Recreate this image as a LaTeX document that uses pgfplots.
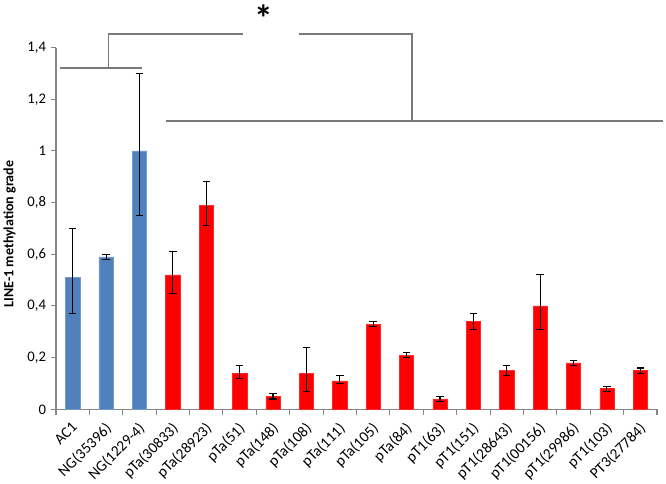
\documentclass[border=0pt]{standalone}
\usepackage{pgfplots}
\pgfplotsset{compat=1.18}
\usepackage{fontspec}
\setmainfont{Carlito}
\definecolor{xlblue}{HTML}{4F81BD}
\definecolor{xlred}{HTML}{FF0000}
\definecolor{axgray}{HTML}{868686}
\definecolor{brgray}{HTML}{7A7A7A}
\begin{document}
\begin{tikzpicture}
\path[use as bounding box] (-42pt,-56pt) rectangle (457.5pt,307pt);
\begin{axis}[
  at={(0,0)}, anchor=south west,
  scale only axis, width=450.75pt, height=271.35pt,
  ybar, bar width=10.7pt, bar shift=0pt,
  xmin=-0.5, xmax=17.5, ymin=0, ymax=1.4,
  axis x line=bottom, axis y line=left,
  axis line style={draw=axgray, line width=0.8pt, -},
  clip=false,
  xtick={-0.5,0.5,...,17.5},
  x tick label as interval,
  xticklabels={AC1,NG(35396),NG(1229-4),pTa(30833),pTa(28923),pTa(51),pTa(148),pTa(108),pTa(111),pTa(105),pTa(84),pT1(63),pT1(151),pT1(28643),pT1(00156),pT1(29986),pT1(103),PT3(27784)},
  x tick label style={rotate=45, anchor=north east, font=\fontsize{11.5}{13}\selectfont, xshift=-1pt, yshift=1pt},
  ytick={0,0.2,0.4,0.6,0.8,1,1.2,1.4},
  yticklabels={0,{0,2},{0,4},{0,6},{0,8},1,{1,2},{1,4}},
  y tick label style={font=\fontsize{11}{13}\selectfont},
  /pgf/number format/assume math mode=true,
  tick style={draw=axgray, line width=0.8pt},
  major tick length=4pt,
  tick align=outside,
  ylabel={\bfseries LINE-1 methylation grade},
  ylabel style={at={(axis description cs:-0.077,0.485)}, anchor=center, font=\fontsize{10.5}{12}\selectfont},
  error bars/error bar style={black, line width=0.8pt},
  error bars/error mark options={black, rotate=90, mark size=2.8pt, line width=0.8pt},
]
\addplot[fill=xlblue, draw=xlblue!80!white, error bars/.cd, y dir=both, y explicit] coordinates {
  (0,0.51) += (0,0.19) -= (0,0.14)
  (1,0.59) += (0,0.01) -= (0,0.01)
  (2,1.00) += (0,0.30) -= (0,0.25)
};
\addplot[fill=xlred, draw=xlred!85!white, error bars/.cd, y dir=both, y explicit] coordinates {
  (3,0.52) += (0,0.09) -= (0,0.07)
  (4,0.79) += (0,0.09) -= (0,0.08)
  (5,0.14) += (0,0.03) -= (0,0.02)
  (6,0.05) += (0,0.01) -= (0,0.01)
  (7,0.14) += (0,0.10) -= (0,0.07)
  (8,0.11) += (0,0.02) -= (0,0.01)
  (9,0.33) += (0,0.01) -= (0,0.01)
  (10,0.21) += (0,0.01) -= (0,0.01)
  (11,0.04) += (0,0.01) -= (0,0.01)
  (12,0.34) += (0,0.03) -= (0,0.03)
  (13,0.15) += (0,0.02) -= (0,0.02)
  (14,0.40) += (0,0.12) -= (0,0.09)
  (15,0.18) += (0,0.01) -= (0,0.01)
  (16,0.08) += (0,0.01) -= (0,0.01)
  (17,0.15) += (0,0.01) -= (0,0.01)
};
\draw[brgray, line width=0.9pt] (axis cs:-0.38,1.321) -- (axis cs:2.075,1.321);
\draw[brgray, line width=0.9pt] (axis cs:1.066,1.321) -- (axis cs:1.066,1.452) -- (axis cs:5.1,1.452);
\draw[brgray, line width=0.9pt] (axis cs:6.78,1.452) -- (axis cs:10.16,1.452) -- (axis cs:10.16,1.116);
\draw[brgray, line width=0.9pt] (axis cs:2.79,1.116) -- (axis cs:17.67,1.116);
\node[font=\fontsize{28}{28}\selectfont\bfseries] at (axis cs:5.72,1.515) {*};
\end{axis}
\end{tikzpicture}
\end{document}
